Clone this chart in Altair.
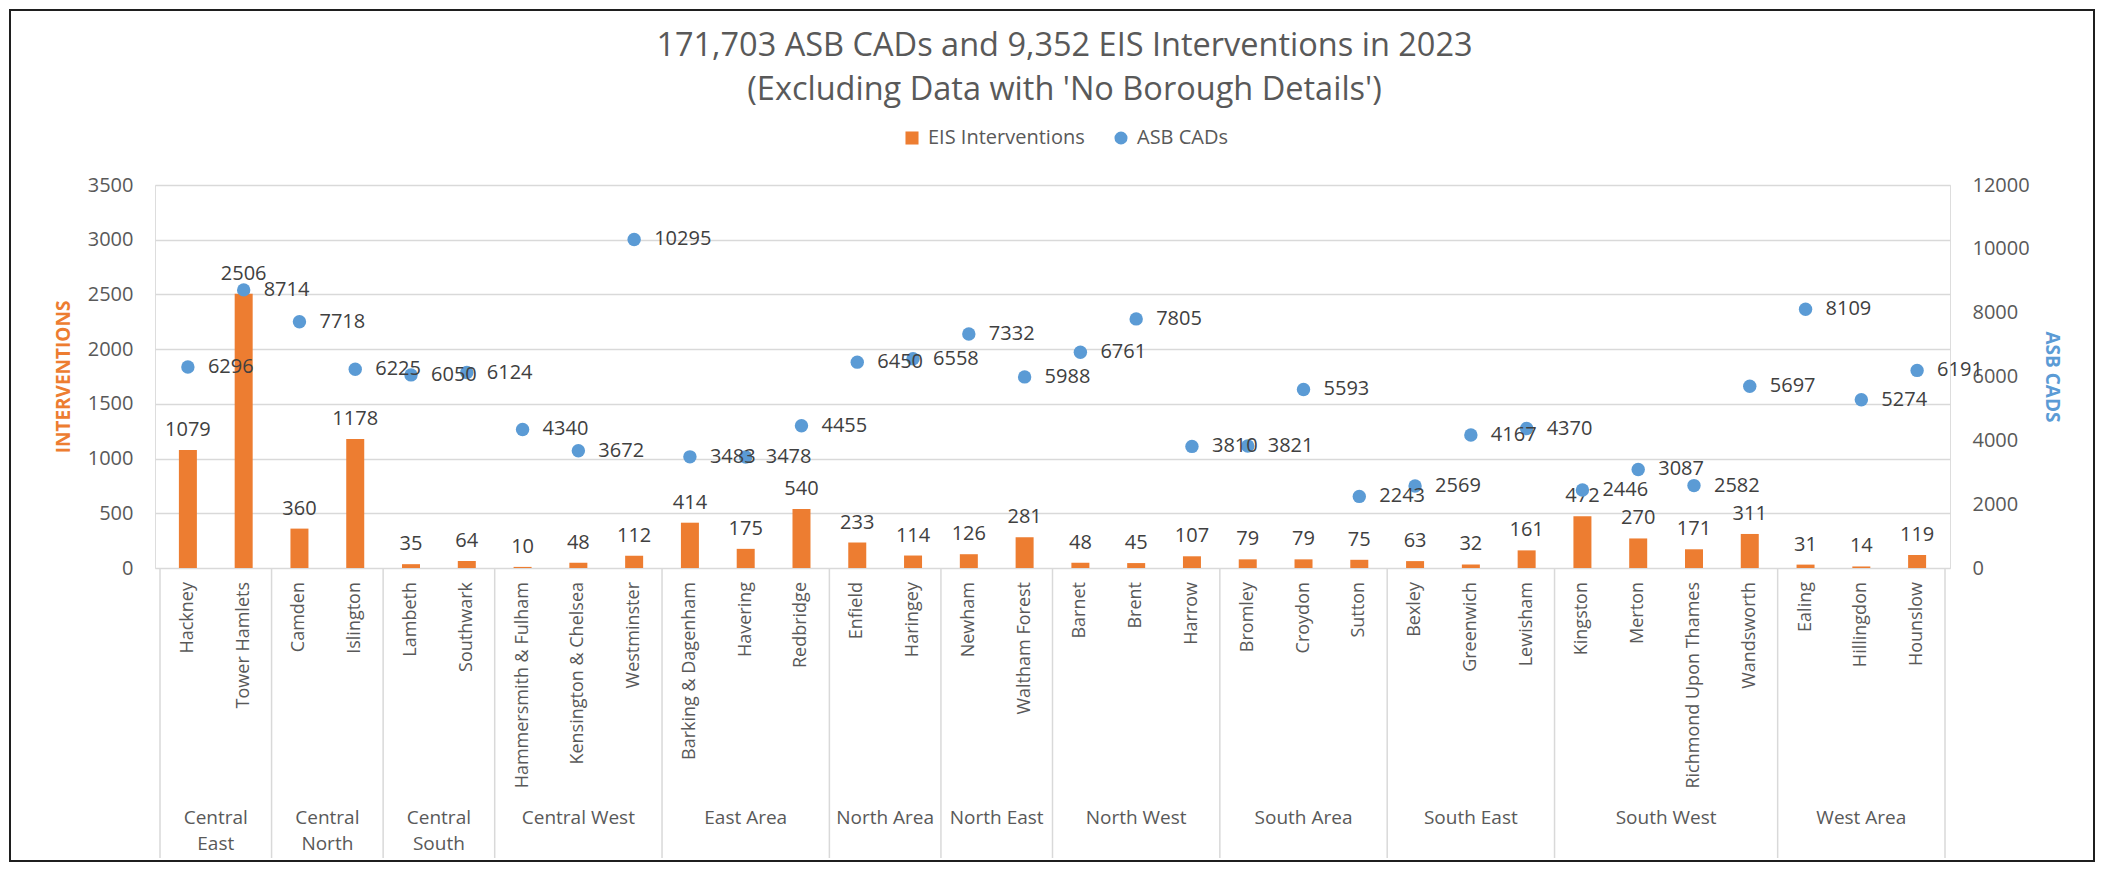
import altair as alt
import pandas as pd

# ---------------- data ----------------
boroughs = [
    "Hackney", "Tower Hamlets", "Camden", "Islington", "Lambeth", "Southwark",
    "Hammersmith & Fulham", "Kensington & Chelsea", "Westminster",
    "Barking & Dagenham", "Havering", "Redbridge", "Enfield", "Haringey",
    "Newham", "Waltham Forest", "Barnet", "Brent", "Harrow", "Bromley",
    "Croydon", "Sutton", "Bexley", "Greenwich", "Lewisham", "Kingston",
    "Merton", "Richmond Upon Thames", "Wandsworth", "Ealing", "Hillingdon",
    "Hounslow",
]
eis = [1079, 2506, 360, 1178, 35, 64, 10, 48, 112, 414, 175, 540, 233, 114,
       126, 281, 48, 45, 107, 79, 79, 75, 63, 32, 161, 472, 270, 171, 311,
       31, 14, 119]
asb = [6296, 8714, 7718, 6225, 6050, 6124, 4340, 3672, 10295, 3483, 3478,
       4455, 6450, 6558, 7332, 5988, 6761, 7805, 3810, 3821, 5593, 2243,
       2569, 4167, 4370, 2446, 3087, 2582, 5697, 8109, 5274, 6191]
regions = ["Central East", "Central North", "Central South", "Central West",
           "East Area", "North Area", "North East", "North West",
           "South Area", "South East", "South West", "West Area"]
region_labels = ["Central\nEast", "Central\nNorth", "Central\nSouth",
                 "Central West", "East Area", "North Area", "North East",
                 "North West", "South Area", "South East", "South West",
                 "West Area"]
region_sizes = [2, 2, 2, 3, 3, 2, 2, 3, 3, 3, 4, 3]

series_names = ["EIS Interventions", "ASB CADs"]
series_colors = ["#ED7D31", "#5B9BD5"]

# ---------------- tables ----------------
df = pd.DataFrame({
    "borough": boroughs,
    "eis": eis,
    "asb": asb,
    "pos": [i + 0.5 for i in range(len(boroughs))],
})

starts, s = [], 0
for n in region_sizes:
    starts.append(s)
    s += n
reg = pd.DataFrame({
    "region": regions,
    "label": region_labels,
    "center": [a + n / 2 for a, n in zip(starts, region_sizes)],
})
seps = pd.DataFrame({"b": starts + [s]})

W, H = 1795, 383
FONT = "Open Sans"
GREY = "#595959"
DARK = "#404040"

xscale = alt.Scale(domain=[0, len(boroughs)], nice=False, zero=False)
x = alt.X("pos:Q", scale=xscale, axis=None)

legend = alt.Legend(
    title=None, orient="none", legendX=747, legendY=-57, direction="horizontal",
    labelFontSize=20, labelColor=GREY, labelFont=FONT, symbolSize=170,
    columnPadding=26, labelOffset=6, padding=0, symbolStrokeWidth=0,
    symbolOpacity=1,
)
color_scale = alt.Scale(domain=series_names, range=series_colors)

bars = alt.Chart(df).transform_calculate(series="'EIS Interventions'").mark_bar(size=18).encode(
    x=x,
    y=alt.Y("eis:Q",
            scale=alt.Scale(domain=[0, 3500], nice=False),
            axis=alt.Axis(title="INTERVENTIONS", orient="left",
                          values=list(range(0, 3501, 500)), format="d",
                          grid=True, gridColor="#d9d9d9", gridWidth=1.3,
                          domain=False, ticks=False, labelPadding=22,
                          labelFontSize=20, labelColor=GREY, labelFont=FONT,
                          titleColor="#ED7D31", titleFontSize=19,
                          titleFontWeight="bold", titleFont=FONT,
                          titlePadding=14)),
    color=alt.Color("series:N", scale=color_scale, legend=legend),
)
bar_labels = alt.Chart(df).mark_text(
    baseline="bottom", dy=-10, fontSize=20, color=DARK, font=FONT
).encode(x=x, y=alt.Y("eis:Q"), text=alt.Text("eis:Q", format="d"))

dots = alt.Chart(df).transform_calculate(series="'ASB CADs'").mark_point(
    filled=True, size=180, opacity=1
).encode(
    x=x,
    y=alt.Y("asb:Q",
            scale=alt.Scale(domain=[0, 12000], nice=False),
            axis=alt.Axis(title="ASB CADS", orient="right",
                          values=list(range(0, 12001, 2000)), format="d",
                          grid=False, domain=False, ticks=False,
                          labelPadding=22, labelFontSize=20, labelColor=GREY,
                          labelFont=FONT, titleColor="#5B9BD5",
                          titleFontSize=19, titleFontWeight="bold",
                          titleFont=FONT, titlePadding=12)),
    color=alt.Color("series:N", scale=color_scale, legend=legend),
    shape=alt.Shape("series:N",
                    scale=alt.Scale(domain=series_names, range=["square", "circle"]),
                    legend=legend),
)
dot_labels = alt.Chart(df).mark_text(
    align="left", baseline="middle", dx=20, fontSize=20, color=DARK, font=FONT
).encode(x=x, y=alt.Y("asb:Q"), text=alt.Text("asb:Q", format="d"))

borough_text = alt.Chart(df).mark_text(
    angle=270, align="right", baseline="middle", fontSize=18, color=GREY, font=FONT
).encode(x=x, y=alt.value(H + 14), text="borough:N")

sep_rules = alt.Chart(seps).mark_rule(color="#d9d9d9", strokeWidth=1.5).encode(
    x=alt.X("b:Q", scale=xscale, axis=None),
    y=alt.value(H + 1), y2=alt.value(H + 290),
)
region_text = alt.Chart(reg).mark_text(
    baseline="top", align="center", fontSize=19, color=GREY, font=FONT,
    lineBreak="\n", lineHeight=26,
).encode(
    x=alt.X("center:Q", scale=xscale, axis=None),
    y=alt.value(H + 241), text="label:N",
)

frame = alt.Chart(pd.DataFrame({"k": [0]})).mark_rect(
    fillOpacity=0, stroke="#1f1f1f", strokeWidth=2
).encode(x=alt.value(-145), x2=alt.value(W + 144), y=alt.value(-175), y2=alt.value(H + 293))

left = alt.layer(bars, bar_labels)
right = alt.layer(dots, dot_labels)

chart = alt.layer(left, right, borough_text, sep_rules, region_text, frame).resolve_scale(
    y="independent"
).properties(
    width=W, height=H,
    title=alt.Title(
        text=["171,703 ASB CADs and 9,352 EIS Interventions in 2023",
              "(Excluding Data with 'No Borough Details')"],
        fontSize=32.5, color=GREY, font=FONT, fontWeight="normal",
        anchor="middle", offset=-97, lineHeight=44, dx=12,
    ),
    padding={"left": 147, "top": 177, "right": 146, "bottom": 295},
    autosize=alt.AutoSizeParams(type="none"),
).configure_view(stroke=None).configure(font=FONT, background="white")

chart.save("out.html", embed_options={"renderer": "svg", "actions": False})
